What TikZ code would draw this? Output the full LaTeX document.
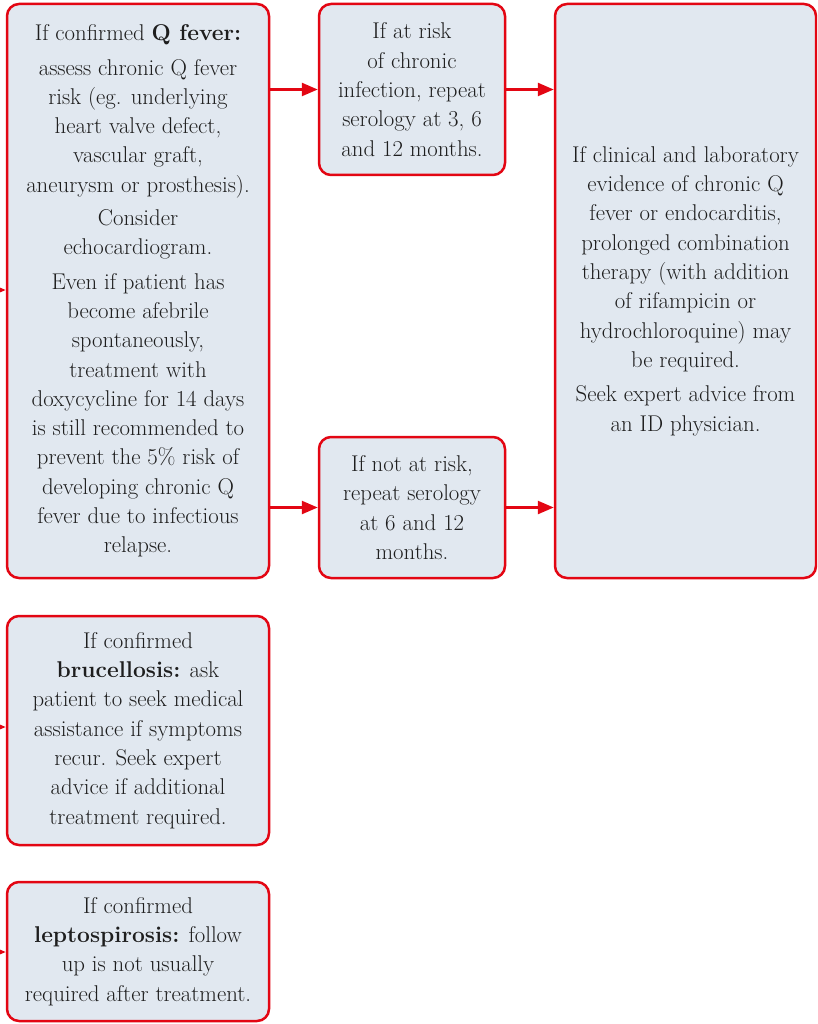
\documentclass[tikz,border=0pt]{standalone}
\usetikzlibrary{arrows.meta}
\definecolor{flowred}{RGB}{227,6,19}
\definecolor{flowfill}{RGB}{225,232,240}
\definecolor{flowtext}{RGB}{30,30,30}
\begin{document}
\begin{tikzpicture}[x=1pt,y=1pt,yscale=-1,
  box/.style={draw=flowred, line width=2.5pt, rounded corners=12pt, fill=flowfill,
    text=flowtext, align=center, inner sep=0pt,
    font=\fontsize{22.8}{29.3}\selectfont},
  link/.style={draw=flowred, line width=2.5pt, -{Triangle[length=16pt,width=13pt]}}]
\useasboundingbox (0,0) rectangle (817,1024);
\clip (0,0) rectangle (817,1024);

%Boxes
\node [box, minimum width=262pt, minimum height=574pt] (qfever) at (138,291)
  {If confirmed \textbf{Q fever:}\\[5pt]
   assess chronic Q fever\\ risk (eg. underlying\\ heart valve defect,\\ vascular graft,\\
   aneurysm or prosthesis).\\[4pt]
   Consider\\ echocardiogram.\\[5pt]
   Even if patient has\\ become afebrile\\ spontaneously,\\ treatment with\\
   doxycycline for 14 days\\ is still recommended to\\ prevent the 5\% risk of\\
   developing chronic Q\\ fever due to infectious\\ relapse.};
\node [box, minimum width=186pt, minimum height=171pt] (atrisk) at (412,89.5)
  {If at risk\\ of chronic\\ infection, repeat\\ serology at 3, 6\\ and 12 months.};
\node [box, minimum width=186pt, minimum height=141pt] (norisk) at (412,507.5)
  {If not at risk,\\ repeat serology\\ at 6 and 12\\ months.};
\node [box, minimum width=261pt, minimum height=574pt] (chronic) at (685.5,291)
  {If clinical and laboratory\\ evidence of chronic Q\\ fever or endocarditis,\\
   prolonged combination\\ therapy (with addition\\ of rifampicin or\\
   hydrochloroquine) may\\ be required.\\[5pt]
   Seek expert advice from\\ an ID physician.};
\node [box, minimum width=262pt, minimum height=229pt] (brucella) at (138,730.5)
  {If confirmed\\ \textbf{brucellosis:} ask\\ patient to seek medical\\ assistance if symptoms\\
   recur. Seek expert\\ advice if additional\\ treatment required.};
\node [box, minimum width=262pt, minimum height=139pt] (lepto) at (138,951.5)
  {If confirmed\\ \textbf{leptospirosis:} follow\\ up is not usually\\ required after treatment.};

%Incoming links from the left
\coordinate (inq) at (-40,290);
\coordinate (inb) at (-40,727);
\coordinate (inl) at (-40,952);
\draw [link] (inq) -- (inq -| qfever.west);
\draw [link] (inb) -- (inb -| brucella.west);
\draw [link] (inl) -- (inl -| lepto.west);

%Links
\draw [link] (qfever.east |- atrisk.west) -- (atrisk.west);
\draw [link] (atrisk.east) -- (atrisk.east -| chronic.west);
\draw [link] (qfever.east |- norisk.west) -- (norisk.west);
\draw [link] (norisk.east) -- (norisk.east -| chronic.west);

\end{tikzpicture}
\end{document}
